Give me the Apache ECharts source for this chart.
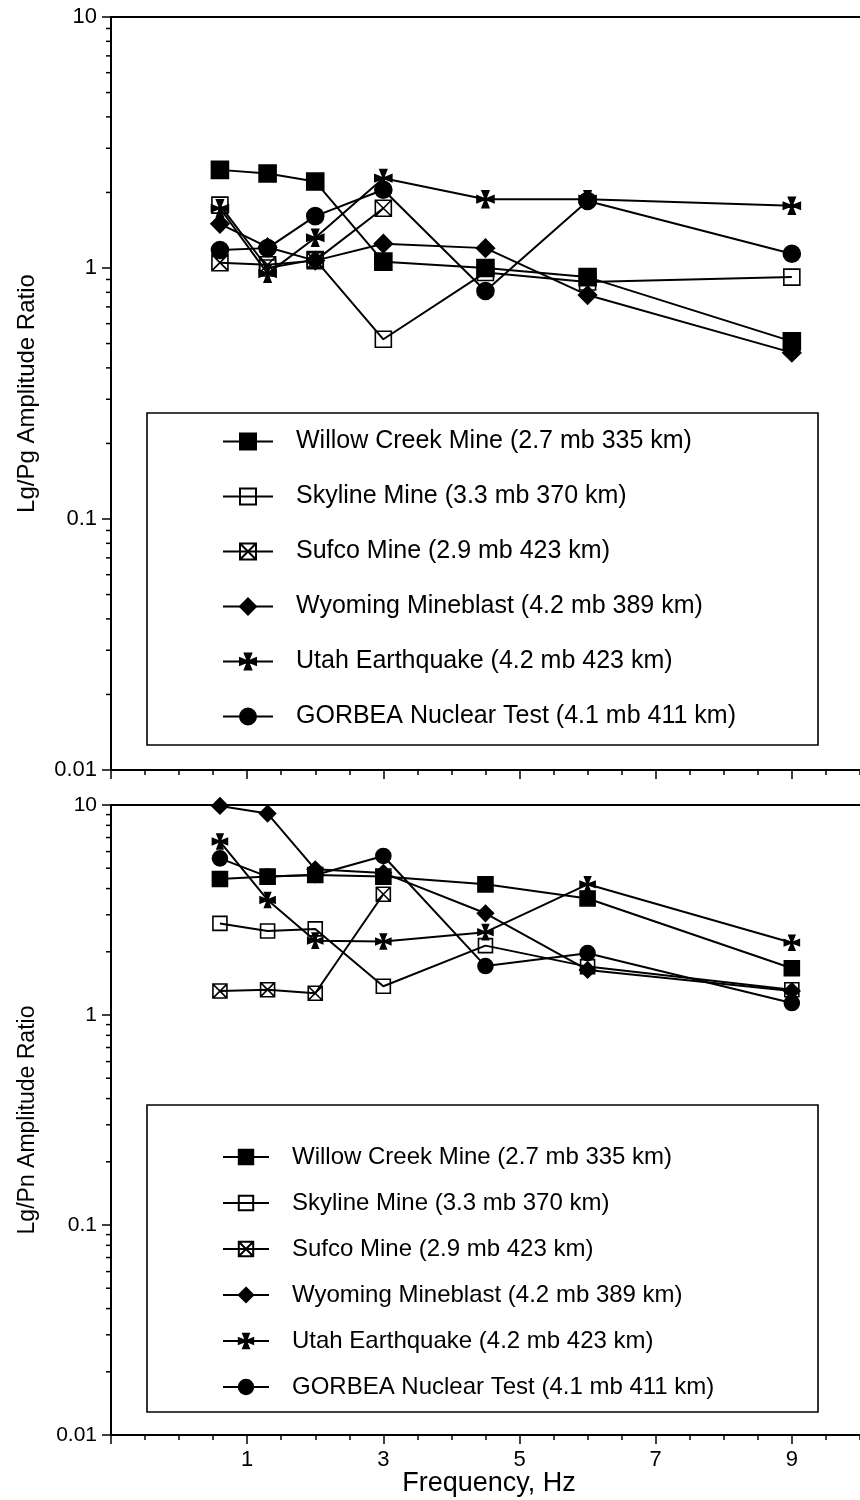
<!DOCTYPE html>
<html>
<head>
<meta charset="utf-8">
<script src="https://cdn.jsdelivr.net/npm/echarts@6/dist/echarts.min.js"></script>
<style>
html,body{margin:0;padding:0;background:#fff;}
#chart{width:860px;height:1500px;}
</style>
</head>
<body>
<div id="chart"></div>
<script>
// ---------- data ----------
const FREQ = [0.6, 1.3, 2.0, 3.0, 4.5, 6.0, 9.0];
const SERIES_NAMES = [
  'Willow Creek Mine (2.7 mb 335 km)',
  'Skyline Mine (3.3 mb 370 km)',
  'Sufco Mine (2.9 mb 423 km)',
  'Wyoming Mineblast (4.2 mb 389 km)',
  'Utah Earthquake (4.2 mb 423 km)',
  'GORBEA Nuclear Test (4.1 mb 411 km)'
];
// Lg/Pg (top panel)
const willowPg  = [2.46, 2.38, 2.21, 1.06, 1.00, 0.92, 0.51];
const skylinePg = [1.78, 1.00, 1.08, 0.52, 0.96, 0.88, 0.92];
const sufcoPg   = [1.05, 1.03, 1.07, 1.73];
const wyomingPg = [1.50, 1.21, 1.07, 1.25, 1.20, 0.78, 0.46];
const utahPg    = [1.73, 0.95, 1.32, 2.28, 1.88, 1.88, 1.77];
const gorbeaPg  = [1.18, 1.20, 1.61, 2.05, 0.81, 1.85, 1.14];
// Lg/Pn (bottom panel)
const willowPn  = [4.44, 4.56, 4.64, 4.56, 4.19, 3.59, 1.67];
const skylinePn = [2.73, 2.51, 2.57, 1.37, 2.14, 1.70, 1.32];
const sufcoPn   = [1.30, 1.32, 1.27, 3.76];
const wyomingPn = [9.90, 9.10, 4.94, 4.75, 3.05, 1.64, 1.30];
const utahPn    = [6.70, 3.53, 2.26, 2.24, 2.48, 4.19, 2.21];
const gorbeaPn  = [5.57, 4.56, 4.64, 5.72, 1.71, 1.97, 1.14];
// axis ticks
const Y_LABELS = [0.01, 0.1, 1, 10];
const X_LABELS = [1, 3, 5, 7, 9];
const LOG_MINOR_MULTS = [2, 3, 4, 5, 6, 7, 8, 9];
const DECADES = [0.01, 0.1, 1];

// ---------- styles ----------
const FONT = '"Liberation Sans", Arial, Helvetica, sans-serif';
const CROSS_SQ = 'path://M0,0L10,0L10,10L0,10ZM0,0L10,10M10,0L0,10';
const UTAH_STAR = 'path://M3,0L7,0L5,5ZM3,10L7,10L5,5ZM0,3L0,7L5,5ZM10,3L10,7L5,5Z';
const SYM = [
  {symbol: 'rect', fill: '#000', size: 17},
  {symbol: 'rect', fill: 'rgba(255,255,255,0)', size: 16},
  {symbol: CROSS_SQ, fill: 'rgba(255,255,255,0)', size: 16},
  {symbol: 'diamond', fill: '#000', size: 18},
  {symbol: UTAH_STAR, fill: '#000', size: 17},
  {symbol: 'circle', fill: '#000', size: 17}
];

const pairs = vals => vals.map((v, i) => [FREQ[i], v]);

function makeSeries(vals, idx, grid, scale) {
  const s = SYM[idx];
  return {
    type: 'line',
    name: SERIES_NAMES[idx],
    xAxisIndex: grid, yAxisIndex: grid,
    data: pairs(vals),
    symbol: s.symbol,
    symbolSize: Math.round(s.size * scale),
    showAllSymbol: true,
    lineStyle: {color: '#000', width: 2},
    itemStyle: {color: s.fill, borderColor: '#000', borderWidth: 1.6},
    emphasis: {disabled: true},
    animation: false,
    z: 3
  };
}

function minorTickSeries(grid) {
  const data = [];
  DECADES.forEach(d => LOG_MINOR_MULTS.forEach(m => data.push([-1, +(d * m).toPrecision(3)])));
  return {
    type: 'custom', xAxisIndex: grid, yAxisIndex: grid, silent: true, clip: false,
    animation: false, z: 5,
    data: data,
    renderItem: (params, api) => {
      const p = api.coord([api.value(0), api.value(1)]);
      return {type: 'line', shape: {x1: p[0] - 5, y1: p[1], x2: p[0], y2: p[1]},
              style: {stroke: '#000', lineWidth: 1.5}};
    }
  };
}

const fmtY = v => {
  const n = Number((+v).toPrecision(3));
  return Y_LABELS.includes(n) ? String(n) : '';
};
const fmtX = v => X_LABELS.includes(Math.round(v * 100) / 100) ? String(v) : '';

function xAxisDef(grid, showLabels) {
  return {
    type: 'value', gridIndex: grid, position: 'bottom',
    min: -1, max: 11, interval: 2,
    axisLine: {show: true, onZero: false, lineStyle: {color: '#000', width: 2}},
    axisTick: {show: true, length: 9, lineStyle: {color: '#000', width: 1.5}},
    minorTick: {show: true, splitNumber: 4, length: 5, lineStyle: {color: '#000', width: 1.5}},
    axisLabel: {show: showLabels, formatter: fmtX, color: '#000', fontSize: 22, fontFamily: FONT, margin: 14},
    splitLine: {show: false}
  };
}
function topFrameAxis(grid) {
  return {
    type: 'value', gridIndex: grid, position: 'top',
    min: -1, max: 11,
    axisLine: {show: true, onZero: false, lineStyle: {color: '#000', width: 2}},
    axisTick: {show: false}, axisLabel: {show: false}, splitLine: {show: false}
  };
}
function yAxisDef(grid, name, fs, nfs, gap) {
  return {
    type: 'log', logBase: 10, gridIndex: grid, min: 0.01, max: 10,
    name: name, nameLocation: 'middle', nameGap: gap,
    nameTextStyle: {color: '#000', fontSize: nfs, fontFamily: FONT},
    axisLine: {show: true, onZero: false, lineStyle: {color: '#000', width: 2}},
    axisTick: {show: true, length: 9, lineStyle: {color: '#000', width: 1.5}},
    axisLabel: {formatter: fmtY, color: '#000', fontSize: fs, fontFamily: FONT, margin: 14},
    splitLine: {show: false}
  };
}

const topVals = [willowPg, skylinePg, sufcoPg, wyomingPg, utahPg, gorbeaPg];
const botVals = [willowPn, skylinePn, sufcoPn, wyomingPn, utahPn, gorbeaPn];

const series = [];
topVals.forEach((v, i) => series.push(makeSeries(v, i, 0, 1)));
botVals.forEach((v, i) => series.push(makeSeries(v, i, 1, 0.88)));
series.push(minorTickSeries(0));
series.push(minorTickSeries(1));

const option = {
  backgroundColor: '#fff',
  animation: false,
  grid: [
    {left: 111, width: 817, top: 17, height: 753, outerBoundsMode: 'none', containLabel: false},
    {left: 111, width: 817, top: 805, height: 630, outerBoundsMode: 'none', containLabel: false}
  ],
  xAxis: [xAxisDef(0, false), xAxisDef(1, true), topFrameAxis(0), topFrameAxis(1)],
  yAxis: [
    yAxisDef(0, 'Lg/Pg Amplitude Ratio', 22, 24, 72),
    yAxisDef(1, 'Lg/Pn Amplitude Ratio', 21, 23, 72)
  ],
  legend: [
    {
      data: SERIES_NAMES, orient: 'vertical', left: 222, top: 429,
      itemWidth: 50, itemHeight: 20, itemGap: 30, padding: 0, selectedMode: false,
      textStyle: {color: '#000', fontSize: 25, lineHeight: 24, fontFamily: FONT, padding: [0, 0, 0, 18]}
    },
    {
      data: SERIES_NAMES, orient: 'vertical', left: 222, top: 1145,
      itemWidth: 46, itemHeight: 18, itemGap: 22, padding: 0, selectedMode: false,
      textStyle: {color: '#000', fontSize: 24, lineHeight: 22, fontFamily: FONT, padding: [0, 0, 0, 18]}
    }
  ],
  graphic: [
    {type: 'rect', shape: {x: 147, y: 413, width: 671, height: 332},
     style: {fill: 'none', stroke: '#000', lineWidth: 1.6}, z: 1},
    {type: 'rect', shape: {x: 147, y: 1105, width: 671, height: 307},
     style: {fill: 'none', stroke: '#000', lineWidth: 1.6}, z: 1},
    {type: 'text', x: 489, y: 1484,
     style: {text: 'Frequency, Hz', fill: '#000', font: '27px ' + FONT, textAlign: 'center', textVerticalAlign: 'middle'}}
  ],
  series: series
};

const chart = echarts.init(document.getElementById('chart'), null, {renderer: 'canvas'});
chart.setOption(option);
</script>
</body>
</html>
